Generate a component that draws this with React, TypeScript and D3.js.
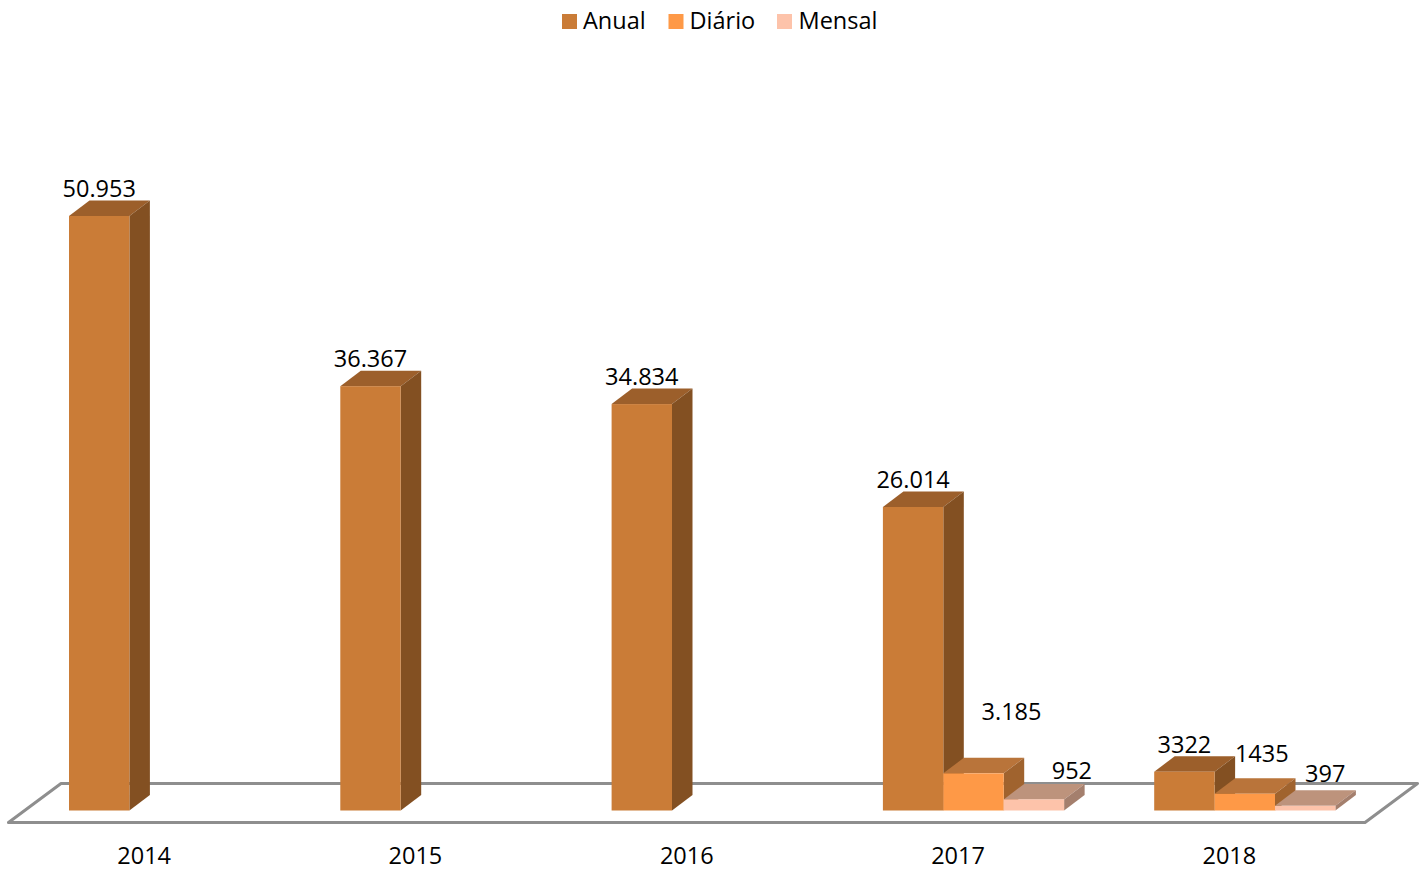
import React from "react";
import * as d3 from "d3";

const years = ["2014", "2015", "2016", "2017", "2018"];
const seriesNames = ["Anual", "Diário", "Mensal"];
const anual = [50953, 36367, 34834, 26014, 3322];
const diario = [null, null, null, 3185, 1435];
const mensal = [null, null, null, 952, 397];
const anualLabels = ["50.953", "36.367", "34.834", "26.014", "3322"];
const diarioLabels = ["", "", "", "3.185", "1435"];
const mensalLabels = ["", "", "", "952", "397"];

const W = 1421, H = 880;
const FONT = "'Open Sans', sans-serif";
const seriesValues = [anual, diario, mensal];
const seriesLabels = [anualLabels, diarioLabels, mensalLabels];
const palette = [
  { front: "#CA7C37", top: "#9C5F2B", side: "#835022", legend: "#CA7C37" },
  { front: "#FE9947", top: "#B9743A", side: "#A0632E", legend: "#FE9947" },
  { front: "#FDC3AA", top: "#BD937C", side: "#A47F6D", legend: "#FDC3AA" },
];
// manual label placement of the original: [dx, dy] from the default spot
const nudges: Record<string, [number, number]> = {
  "3-1": [38, -34],
  "3-2": [38, -1],
  "4-1": [17, -13],
  "4-2": [20, -5],
};

const DX = 20.5, DY = 15.5;
const base = 810.5;
const floorFront = [8.5, 1365];
const floorBackDx = 52.5;
const floorFrontY = 822.5, floorBackY = 783.5;

export default function App() {
  const y = d3.scaleLinear().domain([0, 50953]).range([base, 216]);
  const xCat = d3.scaleBand<string>().domain(years).range(floorFront as [number, number]);
  const xSer = d3.scaleBand<string>().domain(seriesNames).range([60.5, 60.5 + 181.2]);
  const bw = xSer.bandwidth();

  const floorPath = d3.line()([
    [floorFront[0], floorFrontY],
    [floorFront[1], floorFrontY],
    [floorFront[1] + floorBackDx, floorBackY],
    [floorFront[0] + floorBackDx, floorBackY],
  ]) + "Z";

  const legendX = [562, 668.5, 777];
  const legendTextX = [583, 689.5, 798.5];

  return (
    <svg width={W} height={H} style={{ position: "absolute", left: 0, top: 0, background: "#fff" }} fontFamily={FONT}>
      <path d={floorPath} fill="#fff" stroke="#8E8E8E" strokeWidth={3} strokeLinejoin="round" />

      {years.map((yr, i) => (
        <g key={yr}>
          {seriesNames.map((s, k) => {
            const v = seriesValues[k][i];
            if (v == null) return null;
            const x0 = xCat(yr)! + xSer(s)!;
            const x1 = x0 + bw;
            const t = y(v);
            const c = palette[k];
            return (
              <g key={s}>
                <path d={`M${x0},${t}L${x0 + DX},${t - DY}L${x1 + DX},${t - DY}L${x1},${t}Z`} fill={c.top} />
                <path d={`M${x1},${t}L${x1 + DX},${t - DY}L${x1 + DX},${base - DY}L${x1},${base}Z`} fill={c.side} />
                <rect x={x0} y={t} width={bw} height={base - t} fill={c.front} />
              </g>
            );
          })}
        </g>
      ))}

      {years.map((yr, i) =>
        seriesNames.map((s, k) => {
          const v = seriesValues[k][i];
          if (v == null) return null;
          const [nx, ny] = nudges[`${i}-${k}`] ?? [0, 0];
          return (
            <text key={yr + s} x={xCat(yr)! + xSer(s)! + bw / 2 + nx} y={y(v) - 19 + ny} textAnchor="middle" fontSize={23.5} fill="#000">
              {seriesLabels[k][i]}
            </text>
          );
        })
      )}

      {years.map((yr) => (
        <text key={yr} x={xCat(yr)! + xCat.bandwidth() / 2} y={864} textAnchor="middle" fontSize={23.5} fill="#000">
          {yr}
        </text>
      ))}

      {seriesNames.map((s, k) => (
        <g key={s}>
          <rect x={legendX[k]} y={14} width={15} height={15} fill={palette[k].legend} />
          <text x={legendTextX[k]} y={29} fontSize={23.5} fill="#000">{s}</text>
        </g>
      ))}
    </svg>
  );
}
